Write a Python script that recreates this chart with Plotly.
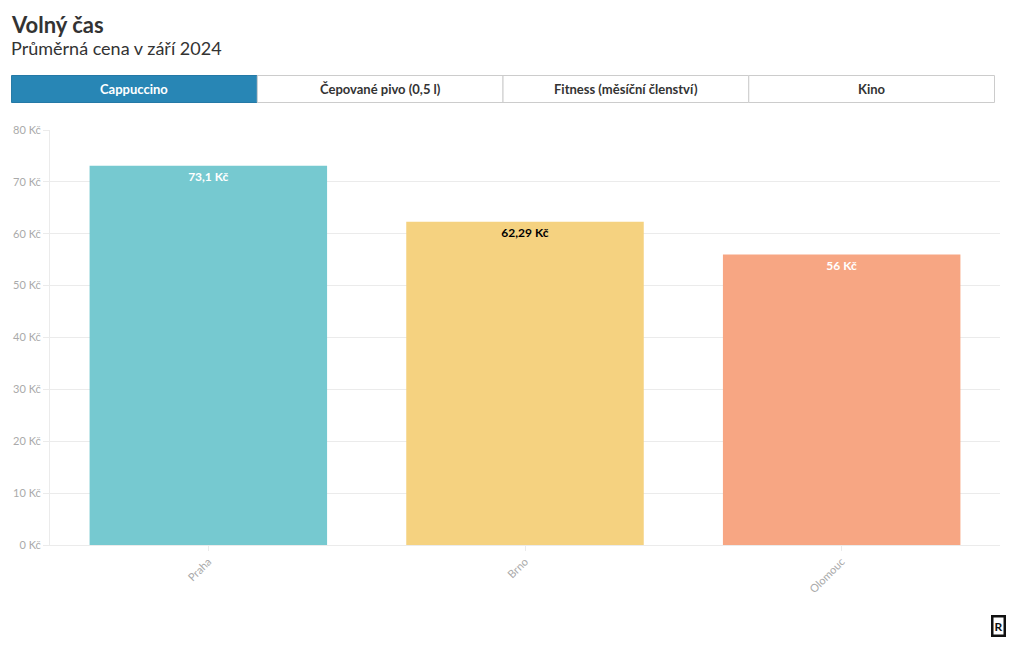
import plotly.graph_objects as go

title = "Volný čas"
subtitle = "Průměrná cena v září 2024"
buttons = ["Cappuccino", "Čepované pivo (0,5 l)", "Fitness (měsíční členství)", "Kino"]
active_button = 0
cities = ["Praha", "Brno", "Olomouc"]
prices = [73.1, 62.29, 56]
bar_colors = ["#76c9d0", "#f5d280", "#f7a683"]
label_colors = ["#ffffff", "#000000", "#ffffff"]

FONT = "Source Sans Pro, Lato, Roboto, sans-serif"

# layout geometry (pixels)
W, H = 1020, 650
L, R, T, B = 49.5, 19.5, 130, 105
pw = W - L - R
ph = H - T - B

def px(x):
    return (x - L) / pw

def py(y):
    return (H - B - y) / ph

fig = go.Figure()
fig.add_trace(go.Bar(
    x=cities, y=prices,
    marker=dict(color=bar_colors, line=dict(width=0)),
    texttemplate="%{y:.2~f} Kč",
    textposition="inside",
    insidetextanchor="end",
    textangle=0,
    textfont=dict(family=FONT, size=12, color=label_colors, weight="bold"),
    hovertemplate="%{x}: %{y:.2~f} Kč<extra></extra>",
))

shapes = []
annotations = []

# title
annotations.append(dict(text="<b>" + title + "</b>", x=px(8), y=py(24), xref="paper", yref="paper",
                        xanchor="left", yanchor="middle", showarrow=False,
                        font=dict(family=FONT, size=22, color="#333333")))
annotations.append(dict(text=subtitle, x=px(8), y=py(48), xref="paper", yref="paper",
                        xanchor="left", yanchor="middle", showarrow=False,
                        font=dict(family=FONT, size=18, color="#333333")))

# button bar
bx0, bx1, by0, by1 = 11, 995, 75.5, 102.5
n = len(buttons)
bw = (bx1 - bx0) / n
for i, lab in enumerate(buttons):
    x0 = bx0 + i * bw
    x1 = x0 + bw
    active = i == active_button
    shapes.append(dict(type="rect", xref="paper", yref="paper",
                       x0=px(x0), x1=px(x1), y0=py(by1), y1=py(by0),
                       fillcolor="#2886b5" if active else "#ffffff",
                       line=dict(color="#2479a6" if active else "#cccccc", width=1), layer="above"))
    annotations.append(dict(text="<b>" + lab + "</b>", x=px((x0 + x1) / 2), y=py((by0 + by1) / 2),
                            xref="paper", yref="paper", xanchor="center", yanchor="middle",
                            showarrow=False,
                            font=dict(family=FONT, size=13, color="#ffffff" if active else "#333333")))

# logo
annotations.append(dict(text="<b>R</b>", x=px(999), y=py(626), xref="paper", yref="paper",
                        xanchor="center", yanchor="middle", showarrow=False,
                        bordercolor="#111111", borderwidth=2.5, borderpad=1, bgcolor="#ffffff",
                        font=dict(family=FONT, size=12, color="#111111")))

fig.update_layout(
    width=W, height=H,
    margin=dict(l=L, r=R, t=T, b=B, pad=0),
    paper_bgcolor="#ffffff", plot_bgcolor="#ffffff",
    separators=", ",
    bargap=0.25,
    showlegend=False,
    font=dict(family=FONT, color="#333333"),
    shapes=shapes,
    annotations=annotations,
    xaxis=dict(
        showgrid=False, showline=True, linecolor="#ebebeb", linewidth=1,
        ticks="outside", ticklen=5, tickcolor="#ebebeb",
        tickangle=-45, tickfont=dict(family=FONT, size=11, color="#aaaaaa"),
        fixedrange=True,
    ),
    yaxis=dict(
        range=[0, 80], dtick=10, ticksuffix=" Kč",
        showgrid=True, gridcolor="#ebebeb", gridwidth=1,
        showline=True, linecolor="#ebebeb", linewidth=1,
        ticks="outside", ticklen=6, tickcolor="#ebebeb",
        tickfont=dict(family=FONT, size=11, color="#aaaaaa"),
        zeroline=False, fixedrange=True,
    ),
)

fig.write_html("out.html", config={"displayModeBar": False})
